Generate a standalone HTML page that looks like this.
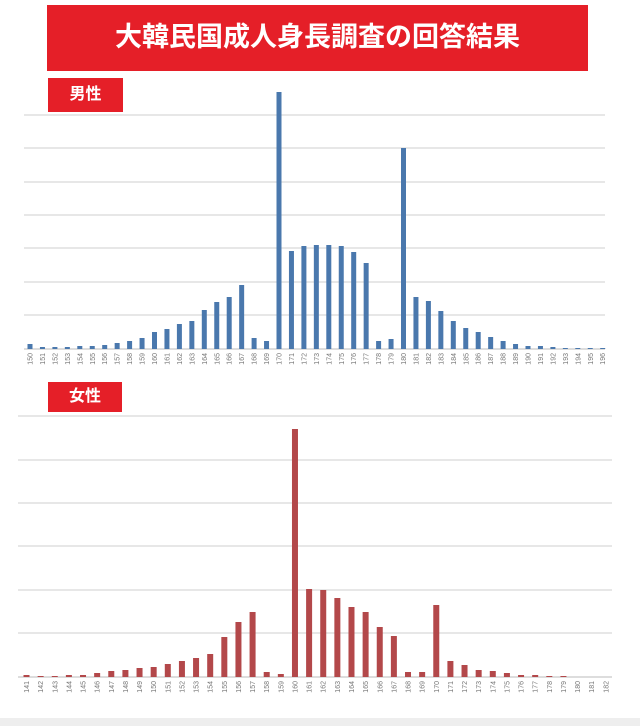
<!DOCTYPE html>
<html><head><meta charset="utf-8"><style>
html,body{margin:0;padding:0;background:#fff;}
body{width:640px;height:726px;overflow:hidden;position:relative;font-family:"Liberation Sans","Noto Sans CJK JP",sans-serif;}
.title{position:absolute;left:47px;top:5px;width:541px;height:66px;background:#e51f28;color:#fff;font-size:27px;font-weight:bold;text-align:center;line-height:64px;letter-spacing:0px;}
.lab{position:absolute;left:48px;width:75px;background:#e51f28;color:#fff;font-weight:bold;font-size:16px;text-align:center;}
svg{position:absolute;left:0;top:0;}
</style></head><body>
<div class="title">大韓民国成人身長調査の回答結果</div>
<div class="lab" style="top:78px;height:34px;line-height:34px;">男性</div>
<div class="lab" style="top:382px;height:30px;line-height:30px;width:74px;">女性</div>
<svg id="s" width="640" height="726" xmlns="http://www.w3.org/2000/svg"></svg>
<script>
var s=document.getElementById('s'),h='';
function chart(grid,x0,x1,base,start,xs,sp,tops,col,bw,labY){
 grid.forEach(function(y){h+='<line x1="'+x0+'" x2="'+x1+'" y1="'+y+'" y2="'+y+'" stroke="#cfcfcf" stroke-width="1"/>';});
 h+='<line x1="'+x0+'" x2="'+x1+'" y1="'+base+'" y2="'+base+'" stroke="#bbb" stroke-width="1"/>';
 tops.forEach(function(t,i){var x=xs+i*sp;
  h+='<rect x="'+(x-bw/2)+'" y="'+t+'" width="'+bw+'" height="'+(base-t)+'" fill="'+col+'"/>';
  h+='<text transform="translate('+(x+2.5)+','+(labY)+') rotate(-90)" font-size="7" fill="#777" text-anchor="end">'+(start+i)+'</text>';
 });
}
chart([115,148,182,215,248,282,315],24,605,349,150,30,12.45,
[344,347,347,347,346,346,345,343,341,338,332,329,324,321,310,302,297,285,338,341,92,251,246,245,245,246,252,263,341,339,148,297,301,311,321,328,332,337,341,344,346,346,347,348,348,348,348],
'#4a78ad',5,353);
chart([416,460,503,546,590,633],18,612,677,141,26.5,14.13,
[675,676,676,675,675,673,671,670,668,667,664,661,658,654,637,622,612,672,674,429,589,590,598,607,612,627,636,672,672,605,661,665,670,671,673,675,675,676,676,677,677,677],
'#b3484a',6,681);
h+='<rect x="0" y="718" width="640" height="8" fill="#eee"/>';
s.innerHTML=h;
</script>
</body></html>
